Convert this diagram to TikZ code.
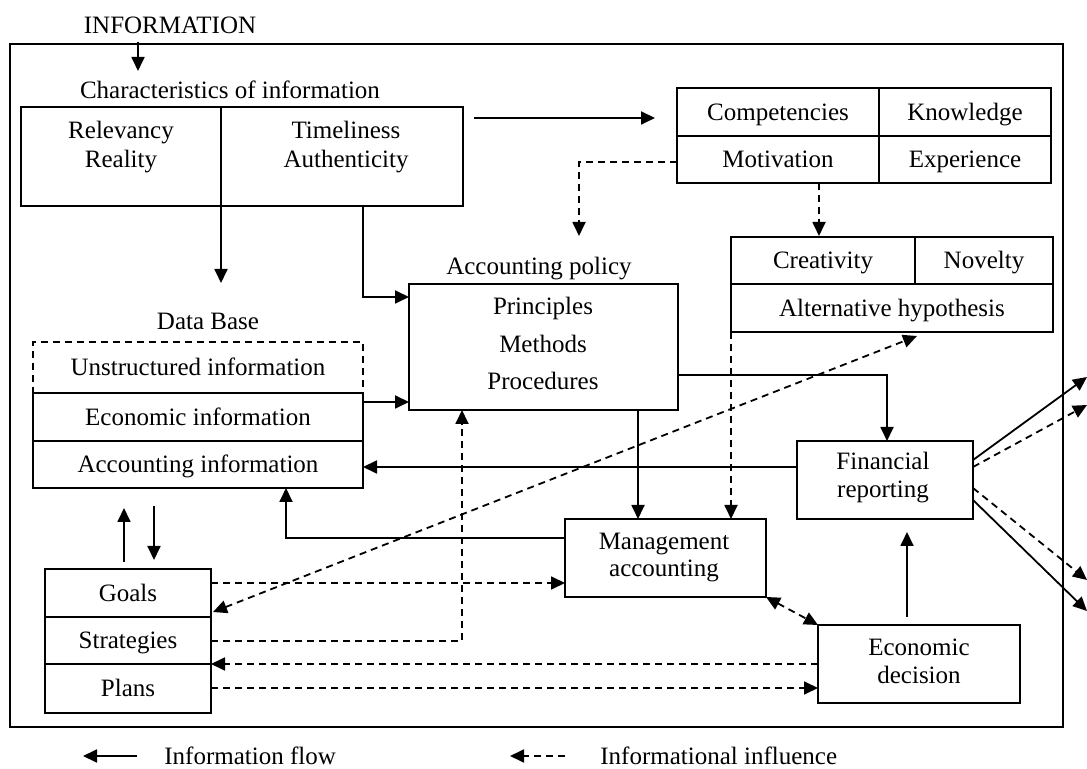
\documentclass[tikz,border=0pt]{standalone}
\usepackage{fontspec}
\setmainfont{Liberation Serif}
\usetikzlibrary{arrows.meta,calc}
\begin{document}
\begin{tikzpicture}[x=0.5pt,y=-0.5pt,
  font=\fontsize{12.5}{14}\selectfont,
  cell/.style={draw,line width=1pt,inner sep=0pt,outer sep=0pt,text height=8.3pt,text depth=0pt,anchor=center},
  dcell/.style={cell,dash pattern=on 3.5pt off 2.5pt},
  lbl/.style={inner sep=0pt,anchor=base},
  flow/.style={line width=0.9pt,-{Triangle[length=7pt,width=6.5pt]}},
  infl/.style={line width=0.9pt,dash pattern=on 3.5pt off 2.5pt,-{Triangle[length=7pt,width=6.5pt]}},
  infltwo/.style={infl,{Triangle[length=7pt,width=6.5pt]}-{Triangle[length=7pt,width=6.5pt]}},
]
\useasboundingbox (0,0) rectangle (1087,769);
\fill[white] (0,0) rectangle (1087,769);
\clip (0,0) rectangle (1087,769);

% frame
\node[draw,line width=1.3pt,inner sep=0pt,minimum width=526.5pt,minimum height=341.5pt] (frame) at (536.5,385.5) {};

% labels
\node[lbl] (info) at (170,34) {INFORMATION};
\node[lbl] (charlbl) at (230,99) {Characteristics of information};
\node[lbl] (acclbl) at (539,275) {Accounting policy};
\node[lbl] (dblbl) at (208,330) {Data Base};

% characteristics box
\node[cell,minimum width=100pt,minimum height=49.5pt] (relbox) at (121,156.5) {};
\node[cell,minimum width=121pt,minimum height=49.5pt] (timebox) at (342,156.5) {};
\node[lbl] (rel1) at (121,139) {Relevancy};
\node[lbl] (rel2) at (121,168) {Reality};
\node[lbl] (tim1) at (346,139) {Timeliness};
\node[lbl] (tim2) at (346,168) {Authenticity};

% competencies
\node[cell,minimum width=101pt,minimum height=24pt] (comp) at (778,112) {Competencies};
\node[cell,minimum width=86pt,minimum height=24pt] (know) at (965,112) {Knowledge};
\node[cell,minimum width=101pt,minimum height=23.5pt] (motiv) at (778,159.5) {Motivation};
\node[cell,minimum width=86pt,minimum height=23.5pt] (exper) at (965,159.5) {Experience};

% creativity
\node[cell,minimum width=92pt,minimum height=23.5pt] (creat) at (823,260.5) {Creativity};
\node[cell,minimum width=69pt,minimum height=23.5pt] (novel) at (984,260.5) {Novelty};
\node[cell,minimum width=161pt,minimum height=24pt] (alt) at (892,308) {Alternative hypothesis};

% accounting policy
\node[cell,minimum width=134.5pt,minimum height=63pt] (accpol) at (543.5,347) {};
\node[lbl] (pr1) at (543,315) {Principles};
\node[lbl] (pr2) at (543,353) {Methods};
\node[lbl] (pr3) at (543,390) {Procedures};

% data base
\node[dcell,minimum width=165pt,minimum height=25.5pt] (unstr) at (198,367.5) {Unstructured information};
\node[cell,minimum width=165pt,minimum height=24pt] (econinfo) at (198,417) {Economic information};
\node[cell,minimum width=165pt,minimum height=23.5pt] (accinfo) at (198,464.5) {Accounting information};

% other boxes
\node[cell,minimum width=88pt,minimum height=39pt] (finrep) at (885,480) {};
\node[lbl] (fin1) at (883,470) {Financial};
\node[lbl] (fin2) at (883,498) {reporting};
\node[cell,minimum width=100.5pt,minimum height=39pt] (mgmt) at (665.5,558) {};
\node[lbl] (mg1) at (664,550) {Management};
\node[lbl] (mg2) at (664,577) {accounting};
\node[cell,minimum width=101pt,minimum height=39pt] (econ) at (919,664) {};
\node[lbl] (ec1) at (919,655) {Economic};
\node[lbl] (ec2) at (919,683) {decision};

\node[cell,minimum width=83pt,minimum height=24pt] (goals) at (128,593) {Goals};
\node[cell,minimum width=83pt,minimum height=23.5pt] (strat) at (128,640.5) {Strategies};
\node[cell,minimum width=83pt,minimum height=24.5pt] (plans) at (128,688.5) {Plans};

% connectors
\coordinate (infoA) at (138,42);
\coordinate (infoB) at (138,71);
\draw[flow] (infoA) -- (infoB);

\draw[flow] (relbox.south east) -- (221,283);
\draw[flow] (363,0 |- timebox.south) |- (accpol.west |- 0,297);
\draw[flow] (econinfo.east |- 0,402) -- (accpol.west |- 0,402);

\coordinate (dA) at (474,118);
\coordinate (dB) at (655,118);
\draw[flow] (dA) -- (dB);

\draw[infl] (motiv.west |- 0,162) -| (579,236);
\draw[infl] (819,0 |- motiv.south) -- (819,236);
\draw[infl] (alt.south west) -- (alt.south west |- mgmt.north);
\draw[infltwo] (213,612) -- (917,336);

\draw[flow] (accpol.east |- 0,375) -| (887,0 |- finrep.north);
\draw[flow] (638,0 |- accpol.south) -- (638,0 |- mgmt.north);
\draw[flow] (finrep.west |- 0,467) -- (accinfo.east |- 0,467);
\draw[flow] (mgmt.west |- 0,538) -| (286,0 |- accinfo.south);

\coordinate (mA) at (907,617);
\coordinate (mB) at (907,532);
\draw[flow] (mA) -- (mB);

\draw[flow] (124,562) -- (124,508);
\draw[flow] (154,506) -- (154,560);

\draw[infl] (goals.east |- 0,583) -- (mgmt.west |- 0,583);
\draw[infl] (strat.east |- 0,641) -| (462,0 |- accpol.south);
\draw[infl] (econ.west |- 0,664) -- (strat.south east);
\draw[infl] (plans.east |- 0,688) -- (econ.west |- 0,688);
\draw[infltwo] (mgmt.south east) -- (econ.north west);

\draw[flow] (finrep.east |- 0,460) -- (1087,377);
\draw[infl] (finrep.east |- 0,467) -- (1087,405);
\draw[infl] (finrep.east |- 0,488) -- (1087,580);
\draw[flow] (finrep.east |- 0,500) -- (1087,611);

% legend
\draw[flow] (137,756) -- (83,756);
\node[lbl,anchor=base west] (leg1) at (164,764) {Information flow};
\draw[infl] (565,756) -- (510,756);
\node[lbl,anchor=base west] (leg2) at (600,764) {Informational influence};
\end{tikzpicture}
\end{document}
